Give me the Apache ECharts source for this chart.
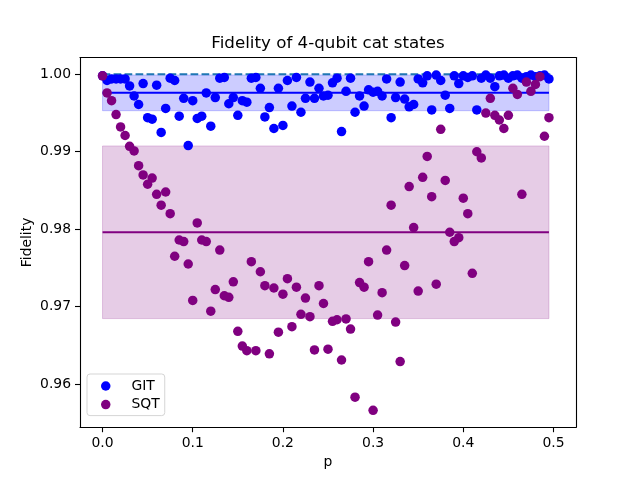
<!DOCTYPE html>
<html>
<head>
<meta charset="utf-8">
<script src="https://cdn.jsdelivr.net/npm/echarts@6/dist/echarts.min.js"></script>
<style>
  html, body { margin: 0; padding: 0; background: #fff; }
  #chart { width: 640px; height: 480px; }
</style>
</head>
<body>
<div id="chart"></div>
<script>
// p values (x)
var pValues = [
  0.000, 0.005, 0.010, 0.015, 0.020, 0.025, 0.030, 0.035, 0.040, 0.045,
  0.050, 0.055, 0.060, 0.065, 0.070, 0.075, 0.080, 0.085, 0.090, 0.095,
  0.100, 0.105, 0.110, 0.115, 0.120, 0.125, 0.130, 0.135, 0.140, 0.145,
  0.150, 0.155, 0.160, 0.165, 0.170, 0.175, 0.180, 0.185, 0.190, 0.195,
  0.200, 0.205, 0.210, 0.215, 0.220, 0.225, 0.230, 0.235, 0.240, 0.245,
  0.250, 0.255, 0.260, 0.265, 0.270, 0.275, 0.280, 0.285, 0.290, 0.295,
  0.300, 0.305, 0.310, 0.315, 0.320, 0.325, 0.330, 0.335, 0.340, 0.345,
  0.350, 0.355, 0.360, 0.365, 0.370, 0.375, 0.380, 0.385, 0.390, 0.395,
  0.400, 0.405, 0.410, 0.415, 0.420, 0.425, 0.430, 0.435, 0.440, 0.445,
  0.450, 0.455, 0.460, 0.465, 0.470, 0.475, 0.480, 0.485, 0.490, 0.495
];

var gitValues = [
  0.9998, 0.9992, 0.9994, 0.9994, 0.9994, 0.9994, 0.9985, 0.9972, 0.9961, 0.9988,
  0.9944, 0.9942, 0.9986, 0.9925, 0.9956, 0.9995, 0.9992, 0.9946, 0.9969, 0.9908,
  0.9966, 0.9943, 0.9946, 0.9976, 0.9933, 0.9970, 0.9995, 0.9996, 0.9962, 0.9970,
  0.9947, 0.9966, 0.9964, 0.9995, 0.9996, 0.9982, 0.9945, 0.9957, 0.9930, 0.9982,
  0.9934, 0.9992, 0.9959, 0.9996, 0.9951, 0.9969, 0.9990, 0.9969, 0.9982, 0.9972,
  0.9973, 0.9989, 0.9995, 0.9926, 0.9978, 0.9995, 0.9951, 0.9972, 0.9959, 0.9980,
  0.9977, 0.9978, 0.9972, 0.9994, 0.9944, 0.9970, 0.9990, 0.9968, 0.9958, 0.9961,
  0.9994, 0.9989, 0.9998, 0.9954, 0.9999, 0.9992, 0.9973, 0.9956, 0.9998, 0.9988,
  0.9998, 0.9996, 0.9998, 0.9954, 0.9995, 0.9999, 0.9995, 0.9984, 0.9998, 0.9999,
  0.9995, 0.9998, 0.9999, 0.9995, 0.9997, 0.9999, 0.9997, 0.9998, 0.9999, 0.9994
];

var sqtValues = [
  0.9998, 0.9976, 0.9966, 0.9948, 0.9932, 0.9921, 0.9907, 0.9901, 0.9882, 0.9870,
  0.9858, 0.9866, 0.9845, 0.9831, 0.9848, 0.9820, 0.9765, 0.9786, 0.9784, 0.9755,
  0.9708, 0.9808, 0.9786, 0.9784, 0.9694, 0.9722, 0.9773, 0.9714, 0.9712, 0.9732,
  0.9668, 0.9649, 0.9643, 0.9758, 0.9643, 0.9745, 0.9727, 0.9639, 0.9724, 0.9667,
  0.9716, 0.9736, 0.9674, 0.9725, 0.9690, 0.9711, 0.9687, 0.9644, 0.9727, 0.9704,
  0.9645, 0.9681, 0.9683, 0.9631, 0.9684, 0.9671, 0.9583, 0.9731, 0.9725, 0.9758,
  0.9566, 0.9689, 0.9718, 0.9773, 0.9831, 0.9680, 0.9629, 0.9753, 0.9855, 0.9802,
  0.9720, 0.9867, 0.9894, 0.9842, 0.9729, 0.9929, 0.9863, 0.9796, 0.9784, 0.9789,
  0.9840, 0.9820, 0.9743, 0.9900, 0.9892, 0.9950, 0.9969, 0.9947, 0.9941, 0.9930,
  0.9947, 0.9982, 0.9974, 0.9845, 0.9990, 0.9978, 0.9987, 0.9997, 0.9920, 0.9944
];

// mean and std bands
var gitMean = 0.99761, gitStd = 0.00231;
var sqtMean = 0.97960, sqtStd = 0.01115;
var bandStart = 0.0, bandEnd = 0.495;
var idealFidelity = 1.0, idealEnd = 0.5;

var xTicks = [0.0, 0.1, 0.2, 0.3, 0.4, 0.5];
var yTicks = [0.96, 0.97, 0.98, 0.99, 1.00];

var chart = echarts.init(document.getElementById('chart'));

function pairs(xs, ys) {
  return xs.map(function (x, i) { return [x, ys[i]]; });
}

var font = 'DejaVu Sans';

var option = {
  animation: false,
  backgroundColor: '#ffffff',
  textStyle: { fontFamily: font },
  title: {
    text: 'Fidelity of 4-qubit cat states',
    left: 323,
    top: 30,
    textAlign: 'center',
    textStyle: { fontFamily: font, fontSize: 16.7, fontWeight: 'normal', color: '#000' }
  },
  grid: { left: 80, right: 64, top: 57.6, bottom: 52.8, containLabel: false },
  legend: {
    data: ['GIT', 'SQT'],
    orient: 'vertical',
    left: 87,
    top: 374,
    icon: 'circle',
    itemWidth: 9.5,
    itemHeight: 9.5,
    itemGap: 4.6,
    padding: [5, 5, 4, 14],
    borderColor: '#d5d5d5',
    borderWidth: 1,
    borderRadius: 3,
    backgroundColor: 'rgba(255,255,255,0.8)',
    formatter: function (name) { return '{t|' + name + '}'; },
    textStyle: {
      fontFamily: font, fontSize: 13.9, color: '#000',
      rich: { t: { fontFamily: font, fontSize: 13.9, color: '#000', lineHeight: 16, padding: [0, 0, 0, 16] } }
    }
  },
  xAxis: [{
    type: 'value',
    min: -0.025,
    max: 0.525,
    name: 'p',
    nameLocation: 'middle',
    nameGap: 28,
    nameTextStyle: { fontFamily: font, fontSize: 13.9, color: '#000' },
    axisLine: { show: true, onZero: false, lineStyle: { color: '#000', width: 1.1 } },
    axisTick: { show: true, inside: false, length: 5, customValues: xTicks, lineStyle: { color: '#000', width: 1.1 } },
    axisLabel: {
      customValues: xTicks, margin: 9, color: '#000', fontFamily: font, fontSize: 13.9,
      formatter: function (v) { return v.toFixed(1); }
    },
    splitLine: { show: false }
  }, {
    type: 'value', position: 'top', min: -0.025, max: 0.525,
    axisLine: { show: true, onZero: false, lineStyle: { color: '#000', width: 1.1 } },
    axisTick: { show: false }, axisLabel: { show: false }, splitLine: { show: false }
  }],
  yAxis: [{
    type: 'value',
    min: 0.95442,
    max: 1.00216,
    name: 'Fidelity',
    nameLocation: 'middle',
    nameGap: 46,
    nameMoveOverlap: false,
    nameTextStyle: { fontFamily: font, fontSize: 13.9, color: '#000' },
    axisLine: { show: true, onZero: false, lineStyle: { color: '#000', width: 1.1 } },
    axisTick: { show: true, inside: false, length: 5, customValues: yTicks, lineStyle: { color: '#000', width: 1.1 } },
    axisLabel: {
      customValues: yTicks, margin: 9, color: '#000', fontFamily: font, fontSize: 13.9,
      formatter: function (v) { return v.toFixed(2); }
    },
    splitLine: { show: false }
  }, {
    type: 'value', position: 'right', min: 0.95442, max: 1.00216,
    axisLine: { show: true, onZero: false, lineStyle: { color: '#000', width: 1.1 } },
    axisTick: { show: false }, axisLabel: { show: false }, splitLine: { show: false }
  }],
  series: [
    {
      name: 'GIT mean',
      type: 'line',
      data: [[bandStart, gitMean], [bandEnd, gitMean]],
      symbol: 'none',
      lineStyle: { color: '#0000ff', width: 2 },
      silent: true,
      z: 2,
      markArea: {
        silent: true,
        itemStyle: { color: 'rgba(0,0,255,0.2)', borderColor: 'rgba(0,0,255,0.2)', borderWidth: 1 },
        data: [[{ coord: [bandStart, gitMean - gitStd] }, { coord: [bandEnd, gitMean + gitStd] }]]
      }
    },
    {
      name: 'SQT mean',
      type: 'line',
      data: [[bandStart, sqtMean], [bandEnd, sqtMean]],
      symbol: 'none',
      lineStyle: { color: '#800080', width: 2 },
      silent: true,
      z: 2,
      markArea: {
        silent: true,
        itemStyle: { color: 'rgba(128,0,128,0.2)', borderColor: 'rgba(128,0,128,0.2)', borderWidth: 1 },
        data: [[{ coord: [bandStart, sqtMean - sqtStd] }, { coord: [bandEnd, sqtMean + sqtStd] }]]
      }
    },
    {
      name: 'ideal',
      type: 'line',
      data: [[bandStart, idealFidelity], [idealEnd, idealFidelity]],
      symbol: 'none',
      lineStyle: { color: '#1f77b4', width: 2, type: [7.7, 3.3] },
      silent: true,
      z: 2
    },
    {
      name: 'GIT',
      type: 'scatter',
      data: pairs(pValues, gitValues),
      symbol: 'circle',
      symbolSize: 9.5,
      itemStyle: { color: '#0000ff', opacity: 1 },
      z: 3
    },
    {
      name: 'SQT',
      type: 'scatter',
      data: pairs(pValues, sqtValues),
      symbol: 'circle',
      symbolSize: 9.5,
      itemStyle: { color: '#800080', opacity: 1 },
      z: 4
    }
  ]
};

chart.setOption(option);
window.addEventListener('resize', function () { chart.resize(); });
</script>
</body>
</html>
